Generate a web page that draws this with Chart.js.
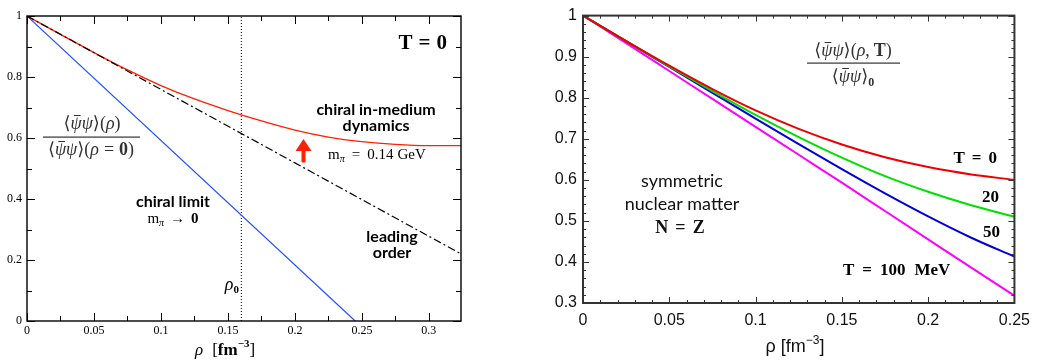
<!DOCTYPE html>
<html>
<head>
<meta charset="utf-8">
<script src="https://cdn.jsdelivr.net/npm/chart.js@4.4.1/dist/chart.umd.min.js"></script>
<style>
  body { margin: 0; background: #fff; }
  #wrap { position: relative; width: 1038px; height: 363px; }
  canvas { position: absolute; top: 0; }
  #left { left: 0; }
  #right { left: 480px; }
</style>
</head>
<body>
<div id="wrap">
  <canvas id="left" width="480" height="363"></canvas>
  <canvas id="right" width="558" height="363"></canvas>
</div>
<script>
// ---- T = 0 panel: condensate ratio vs density ----
const rhoMed = [0, 0.025, 0.05, 0.075, 0.1, 0.125, 0.15, 0.175, 0.2, 0.225, 0.25, 0.275, 0.3, 0.324];
const inMedium = [1, 0.94, 0.88, 0.823, 0.772, 0.728, 0.69, 0.656, 0.626, 0.603, 0.588, 0.579, 0.575, 0.575];
const rhoLO = [0, 0.324];
const leadingOrder = [1, 0.22];
const rhoChiral = [0, 0.245];
const chiralLimit = [1, 0];
const rho0 = 0.16;
const arrowAt = 0.206, arrowFrom = 0.52, arrowTo = 0.597;
const leftXTicks = [0, 0.05, 0.1, 0.15, 0.2, 0.25, 0.3];
const leftYTicks = [0, 0.2, 0.4, 0.6, 0.8, 1];

// ---- finite temperature panel ----
const rhoT = [0, 0.025, 0.05, 0.075, 0.1, 0.125, 0.15, 0.175, 0.2, 0.225, 0.25];
const condT0 = [1, 0.938, 0.878, 0.821, 0.769, 0.724, 0.686, 0.655, 0.631, 0.613, 0.6];
const condT20 = [1, 0.938, 0.876, 0.816, 0.758, 0.704, 0.654, 0.609, 0.571, 0.538, 0.51];
const condT50 = [1, 0.938, 0.875, 0.812, 0.749, 0.687, 0.626, 0.567, 0.511, 0.459, 0.413];
const condT100 = [1, 0.933, 0.865, 0.797, 0.729, 0.661, 0.593, 0.524, 0.455, 0.386, 0.318];
const rightXTicks = [0, 0.05, 0.1, 0.15, 0.2, 0.25];
const rightYTicks = [0.3, 0.4, 0.5, 0.6, 0.7, 0.8, 0.9, 1];

const SERIF = "'Liberation Serif', 'DejaVu Serif', serif";
const SANS = "Lato, 'Open Sans', sans-serif";
const HELV = "'Liberation Sans', Arial, sans-serif";

const pts = (xs, ys) => xs.map((x, i) => ({ x, y: ys[i] }));
const fmt = v => String(+(+v).toFixed(3));

// draws a run of differently styled pieces on one baseline
function rich(ctx, parts, x, y, align) {
  let w = 0;
  parts.forEach(p => {
    if (p.gap) { p.w = p.gap; } else { ctx.font = p.f; p.w = ctx.measureText(p.t).width; }
    w += p.w;
  });
  let cx = align === 'center' ? x - w / 2 : align === 'right' ? x - w : x;
  ctx.textAlign = 'left';
  ctx.textBaseline = 'alphabetic';
  parts.forEach(p => {
    if (!p.gap) {
      ctx.font = p.f;
      ctx.fillText(p.t, cx, y + (p.dy || 0));
      if (p.bar) {
        const fs = parseFloat(p.f.match(/([\d.]+)px/)[1]);
        ctx.fillRect(cx + p.w * 0.3, y - fs * 0.78, p.w * 0.6, Math.max(1, fs * 0.06));
      }
    }
    cx += p.w;
  });
  return w;
}

// box frame with inward ticks on all four sides
const frame = {
  id: 'frame',
  afterDatasetsDraw(chart, args, o) {
    const { ctx, chartArea: a, scales: { x, y } } = chart;
    ctx.save();
    ctx.strokeStyle = o.color;
    ctx.lineWidth = o.tickWidth;
    ctx.beginPath();
    const xt = (v, len) => {
      const p = Math.round(x.getPixelForValue(v)) + 0.5;
      ctx.moveTo(p, a.bottom); ctx.lineTo(p, a.bottom - len);
      ctx.moveTo(p, a.top); ctx.lineTo(p, a.top + len);
    };
    const yt = (v, len) => {
      const p = Math.round(y.getPixelForValue(v)) + 0.5;
      ctx.moveTo(a.left, p); ctx.lineTo(a.left + len, p);
      ctx.moveTo(a.right, p); ctx.lineTo(a.right - len, p);
    };
    for (let v = x.min; v <= x.max + 1e-9; v += o.xMinor) xt(v, o.minor);
    for (let v = y.min; v <= y.max + 1e-9; v += o.yMinor) yt(v, o.minor);
    o.xMajor.forEach(v => xt(v, o.major));
    o.yMajor.forEach(v => yt(v, o.major));
    ctx.stroke();
    ctx.lineWidth = o.width;
    ctx.strokeRect(a.left, a.top, a.right - a.left, a.bottom - a.top);
    ctx.restore();
  }
};

const R = s => s + 'px ' + SERIF, I = s => 'italic ' + s + 'px ' + SERIF, B = s => 'bold ' + s + 'px ' + SERIF;

const leftNotes = {
  id: 'leftNotes',
  afterDraw(chart) {
    const { ctx, scales: { x, y } } = chart;
    ctx.save();

    // red arrow between leading order and in-medium curve
    const ax = Math.round(x.getPixelForValue(arrowAt)) + 0.5;
    const ay0 = y.getPixelForValue(arrowFrom), ay1 = y.getPixelForValue(arrowTo);
    ctx.fillStyle = '#ff2200';
    ctx.fillRect(ax - 2, ay1 + 10, 4, ay0 - ay1 - 10);
    ctx.beginPath();
    ctx.moveTo(ax, ay1); ctx.lineTo(ax - 8, ay1 + 12); ctx.lineTo(ax + 8, ay1 + 12);
    ctx.closePath(); ctx.fill();

    ctx.fillStyle = '#000';
    rich(ctx, [{ t: 'T', f: B(21) }, { gap: 6 }, { t: '=', f: B(21) }, { gap: 6 }, { t: '0', f: B(21) }], 447, 49, 'right');

    ctx.font = 'bold 16px ' + SANS;
    ctx.textAlign = 'center';
    ctx.fillText('chiral in-medium', 376, 115);
    ctx.fillText('dynamics', 376, 131);
    ctx.fillText('chiral limit', 173, 207);
    ctx.fillText('leading', 392, 242);
    ctx.fillText('order', 392, 258);

    rich(ctx, [{ t: 'm', f: R(15) }, { t: 'π', f: I(10), dy: 3 }, { gap: 7 }, { t: '=', f: R(15) }, { gap: 7 },
      { t: '0.14', f: R(15) }, { gap: 4 }, { t: 'GeV', f: R(15) }], 328, 159, 'left');
    rich(ctx, [{ t: 'm', f: R(15) }, { t: 'π', f: I(10), dy: 3 }, { gap: 6 }, { t: '→', f: R(15) }, { gap: 6 },
      { t: '0', f: B(15) }], 173, 223, 'center');

    rich(ctx, [{ t: 'ρ', f: I(18) }, { t: '0', f: B(11), dy: 3 }], 239, 290, 'right');

    // condensate ratio label
    ctx.fillStyle = '#333';
    const num = [{ t: '⟨', f: R(18) }, { t: 'ψ', f: I(18), bar: true }, { t: 'ψ', f: I(18) }, { t: '⟩', f: R(18) },
      { t: '(', f: R(18) }, { t: 'ρ', f: I(18) }, { t: ')', f: R(18) }];
    const den = [{ t: '⟨', f: R(18) }, { t: 'ψ', f: I(18), bar: true }, { t: 'ψ', f: I(18) }, { t: '⟩', f: R(18) },
      { t: '(', f: R(18) }, { t: 'ρ', f: I(18) }, { gap: 5 }, { t: '=', f: R(18) }, { gap: 5 }, { t: '0', f: B(18) }, { t: ')', f: R(18) }];
    rich(ctx, num, 92, 129, 'center');
    rich(ctx, den, 91, 155, 'center');
    ctx.fillRect(43, 136.5, 97, 1.2);

    // axis title
    ctx.fillStyle = '#000';
    rich(ctx, [{ t: 'ρ', f: I(17) }, { gap: 9 }, { t: '[', f: R(17) }, { t: 'fm', f: B(17) },
      { t: '−3', f: B(11), dy: -8 }, { t: ']', f: R(17) }], 195, 355, 'left');
    ctx.restore();
  }
};

const rightNotes = {
  id: 'rightNotes',
  afterDraw(chart) {
    const { ctx } = chart;
    ctx.save();
    ctx.fillStyle = '#333';
    const num = [{ t: '⟨', f: R(18) }, { t: 'ψ', f: I(18), bar: true }, { t: 'ψ', f: I(18) }, { t: '⟩', f: R(18) },
      { t: '(', f: R(18) }, { t: 'ρ', f: I(18) }, { t: ',', f: R(18) }, { gap: 4 }, { t: 'T', f: B(18) }, { t: ')', f: R(18) }];
    const den = [{ t: '⟨', f: R(18) }, { t: 'ψ', f: I(18), bar: true }, { t: 'ψ', f: I(18) }, { t: '⟩', f: R(18) },
      { t: '0', f: B(12), dy: 4 }];
    rich(ctx, num, 373, 56, 'center');
    rich(ctx, den, 373, 82, 'center');
    ctx.fillRect(327, 62.5, 93, 1.2);

    ctx.fillStyle = '#111';
    ctx.font = '18px ' + SANS;
    ctx.textAlign = 'center';
    ctx.fillText('symmetric', 202, 187);
    ctx.fillText('nuclear matter', 202, 210);
    rich(ctx, [{ t: 'N', f: B(18) }, { gap: 7 }, { t: '=', f: B(18) }, { gap: 7 }, { t: 'Z', f: B(18) }], 200, 233, 'center');

    ctx.fillStyle = '#000';
    rich(ctx, [{ t: 'T', f: B(17) }, { gap: 7 }, { t: '=', f: B(17) }, { gap: 7 }, { t: '0', f: B(17) }], 517, 163, 'right');
    rich(ctx, [{ t: '20', f: B(17) }], 519, 202, 'right');
    rich(ctx, [{ t: '50', f: B(17) }], 520, 237, 'right');
    rich(ctx, [{ t: 'T', f: B(17) }, { gap: 8 }, { t: '=', f: B(17) }, { gap: 8 }, { t: '100', f: B(17) }, { gap: 9 },
      { t: 'MeV', f: B(17) }], 363, 275, 'left');

    ctx.fillStyle = '#111';
    rich(ctx, [{ t: 'ρ [fm', f: '18px ' + HELV }, { t: '−3', f: '12px ' + HELV, dy: -8 }, { t: ']', f: '18px ' + HELV }], 315, 352, 'center');
    ctx.restore();
  }
};

function axis(min, max, list, size, font, color, padding) {
  return {
    type: 'linear', min, max,
    grid: { display: false, drawTicks: false },
    border: { display: false },
    afterBuildTicks: s => { s.ticks = list.map(v => ({ value: v })); },
    afterFit: s => { if (s.isHorizontal()) s.height = size; else s.width = size; },
    ticks: { font, color, padding, autoSkip: false, maxRotation: 0, callback: v => fmt(v) }
  };
}

new Chart(document.getElementById('left'), {
  type: 'line',
  data: {
    datasets: [
      { data: pts(rhoLO, leadingOrder), borderColor: '#000', borderWidth: 1.2, borderDash: [8, 3, 2, 3], order: 0 },
      { data: pts(rhoMed, inMedium), borderColor: '#ff2200', borderWidth: 1.4, cubicInterpolationMode: 'monotone', order: 1 },
      { data: pts(rhoChiral, chiralLimit), borderColor: '#1f4fff', borderWidth: 1.2, order: 2 },
      { data: pts([rho0, rho0], [0, 1]), borderColor: '#000', borderWidth: 1, borderDash: [1, 2], order: 3 }
    ]
  },
  options: {
    responsive: false, animation: false, devicePixelRatio: 1,
    layout: { padding: { top: 16, right: 19, left: 0, bottom: 0 } },
    elements: { point: { radius: 0 } },
    plugins: {
      legend: { display: false }, tooltip: { enabled: false },
      frame: { color: '#000', width: 1.4, tickWidth: 1, major: 8, minor: 5, xMinor: 0.025, yMinor: 0.1,
        xMajor: leftXTicks, yMajor: leftYTicks }
    },
    scales: {
      x: axis(0, 0.324, leftXTicks, 42, { family: SERIF, size: 12 }, '#000', 3),
      y: axis(0, 1, leftYTicks, 27, { family: SERIF, size: 12 }, '#000', 5)
    }
  },
  plugins: [frame, leftNotes]
});

new Chart(document.getElementById('right'), {
  type: 'line',
  data: {
    datasets: [
      { data: pts(rhoT, condT0), borderColor: '#ee0000' },
      { data: pts(rhoT, condT20), borderColor: '#00e000' },
      { data: pts(rhoT, condT50), borderColor: '#0000dd' },
      { data: pts(rhoT, condT100), borderColor: '#ff00ff' }
    ]
  },
  options: {
    responsive: false, animation: false, devicePixelRatio: 1,
    layout: { padding: { top: 6, right: 21, left: 0, bottom: 0 } },
    elements: { point: { radius: 0 }, line: { borderWidth: 2, cubicInterpolationMode: 'monotone' } },
    plugins: {
      legend: { display: false }, tooltip: { enabled: false },
      frame: { color: '#333', width: 2, tickWidth: 1, major: 6, minor: 3, xMinor: 0.01, yMinor: 0.02,
        xMajor: rightXTicks, yMajor: rightYTicks }
    },
    scales: {
      x: axis(0, 0.25, rightXTicks, 60, { family: HELV, size: 16 }, '#111', 8),
      y: axis(0.3, 1, rightYTicks, 103, { family: HELV, size: 16 }, '#111', 6)
    }
  },
  plugins: [frame, rightNotes]
});
</script>
</body>
</html>
